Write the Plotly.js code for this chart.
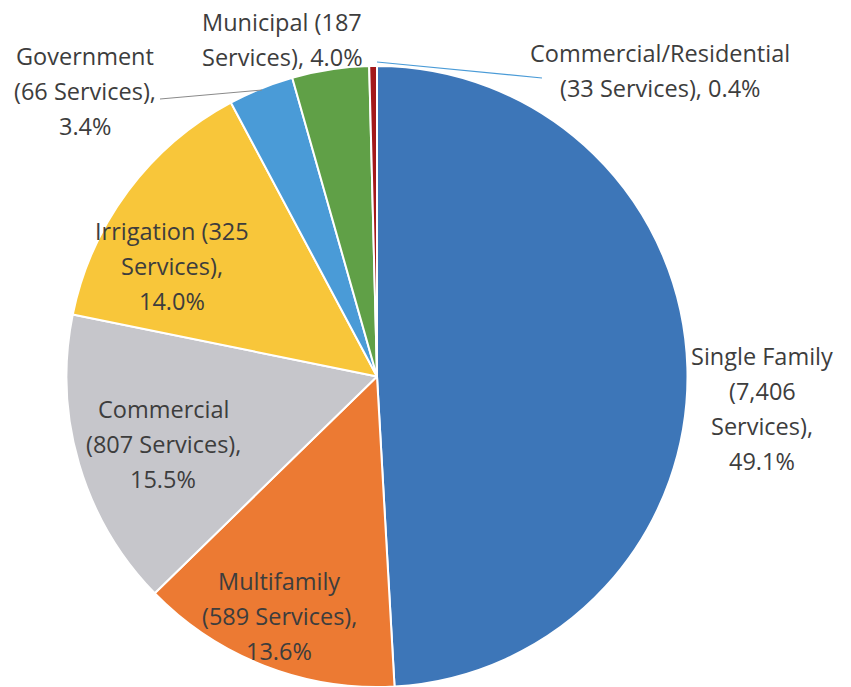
<!DOCTYPE html>
<html>
<head>
<meta charset="utf-8">
<script src="https://cdn.plot.ly/plotly-3.0.1.min.js"></script>
<style>html,body{margin:0;padding:0;background:#fff;}#chart{width:851px;height:687px;}</style>
</head>
<body>
<div id="chart"></div>
<script>
// ---- data ----
const categories = ['Single Family','Multifamily','Commercial','Irrigation','Government','Municipal','Commercial/Residential'];
const services = [7406, 589, 807, 325, 66, 187, 33];
const percents = [49.1, 13.6, 15.5, 14.0, 3.4, 4.0, 0.4];
const colors = ['#3D76B8','#EC7A33','#C6C6CB','#F8C63A','#4A9BD7','#60A047','#A3191B'];

// ---- layout helpers (positions in px) ----
const W = 851, H = 687;
const px = x => x / W;
const py = y => 1 - y / H;
const wraps = [[2,1,1,1],[1,2,1],[1,2,1],[2,1,1],[1,2,1],[2,2],[1,3]];
const labelPos = [[762,356],[279,581],[163,409],[172,231],[85,56],[282,22],[660,53]];
const lineStep = 35;

const annotations = [];
categories.forEach((c, i) => {
  const full = `${c} (${services[i].toLocaleString('en-US')} Services), ${percents[i].toFixed(1)}%`;
  const words = full.split(' ');
  let k = 0;
  wraps[i].forEach((n, j) => {
    const line = words.slice(k, k + n).join(' ');
    k += n;
    annotations.push({
      xref: 'paper', yref: 'paper',
      x: px(labelPos[i][0]), y: py(labelPos[i][1] + j * lineStep),
      xanchor: 'center', yanchor: 'middle',
      text: line, showarrow: false,
      font: {family: 'Open Sans, sans-serif', size: 23.5, color: '#3d3d3d'}
    });
  });
});

const shapes = [
  {type:'line', xref:'paper', yref:'paper', x0:px(160), y0:py(99), x1:px(262), y1:py(90), line:{color:'#8a8a8a', width:1}},
  {type:'line', xref:'paper', yref:'paper', x0:px(377), y0:py(62), x1:px(542), y1:py(78), line:{color:'#4A9BD7', width:1.2}}
];

const R = 310.5, cx = 377, cy = 376.5;
const trace = {
  type: 'pie',
  labels: categories,
  values: percents,
  sort: false,
  direction: 'clockwise',
  rotation: 0,
  textinfo: 'none',
  hoverinfo: 'label+percent',
  marker: {colors: colors, line: {color: '#ffffff', width: 2}},
  domain: {x: [px(cx - R), px(cx + R)], y: [py(cy + R), py(cy - R)]},
  showlegend: false
};

Plotly.newPlot('chart', [trace], {
  width: W, height: H,
  margin: {l: 0, r: 0, t: 0, b: 0},
  paper_bgcolor: '#ffffff',
  showlegend: false,
  annotations: annotations,
  shapes: shapes
}, {displayModeBar: false, staticPlot: true});
</script>
</body>
</html>
